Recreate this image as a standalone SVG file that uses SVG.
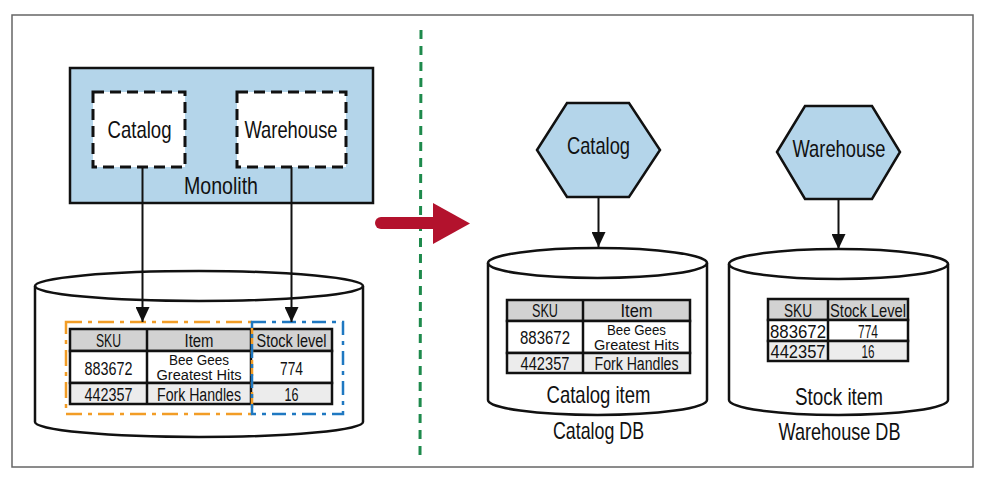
<svg xmlns="http://www.w3.org/2000/svg" width="984" height="489" viewBox="0 0 984 489">
<defs>
<style>
.t{font-family:"Liberation Sans",Arial,sans-serif;fill:#111;text-anchor:middle}
.big{font-size:24px}
.tb{font-size:18px}
.tw{font-size:14px}
.tb2{font-size:19px}
.ln{stroke:#111;stroke-width:2.5;fill:none}
.conn{stroke:#111;stroke-width:2;fill:none}
.cell{stroke:#111;stroke-width:2.5}
.hdr{fill:#d2d2d2}
.r1{fill:#ffffff}
.r2{fill:#ececec}
.blue{fill:#b4d5ea;stroke:#111;stroke-width:2.5}
</style>
<marker id="ah" markerWidth="15" markerHeight="14" refX="15" refY="7" orient="auto" markerUnits="userSpaceOnUse">
<path d="M0,0 L15,7 L0,14 Z" fill="#111"/>
</marker>
</defs>
<rect x="0" y="0" width="984" height="489" fill="#fff"/>
<rect x="12" y="15" width="961" height="452" fill="none" stroke="#666" stroke-width="1.5"/>

<g id="divider">
<line x1="421" y1="30" x2="420" y2="460" stroke="#1e8a4c" stroke-width="3" stroke-dasharray="9 7"/>
</g>

<g id="transition-arrow">
<line x1="381" y1="223" x2="436" y2="223" stroke="#b3122d" stroke-width="12" stroke-linecap="round"/>
<path d="M433,203 L470,223.5 L433,244 Z" fill="#b3122d"/>
</g>

<g id="monolith">
<rect x="70" y="68" width="303" height="135" class="blue"/>
<text x="221" y="194" class="t big" textLength="74" lengthAdjust="spacingAndGlyphs">Monolith</text>
</g>
<g id="monolith-catalog">
<rect x="93" y="92" width="92" height="75" fill="#fff" stroke="#111" stroke-width="3" stroke-dasharray="11 6"/>
<text x="139.5" y="138" class="t big" textLength="64" lengthAdjust="spacingAndGlyphs">Catalog</text>
</g>
<g id="monolith-warehouse">
<rect x="237" y="92" width="109" height="75" fill="#fff" stroke="#111" stroke-width="3" stroke-dasharray="11 6"/>
<text x="291" y="138" class="t big" textLength="93" lengthAdjust="spacingAndGlyphs">Warehouse</text>
</g>

<g id="monolith-db">
<path d="M35,286 L35,422 A164,15 0 0 0 363,422 L363,286" fill="#fff" class="ln"/>
<ellipse cx="199" cy="286" rx="164" ry="15" fill="#fff" class="ln"/>
<rect x="70" y="329" width="262" height="22" class="cell hdr"/>
<rect x="70" y="351" width="262" height="32" class="cell r1"/>
<rect x="70" y="383" width="262" height="21" class="cell r2"/>
<line x1="147" y1="329" x2="147" y2="404" class="cell"/>
<line x1="251" y1="329" x2="251" y2="404" class="cell"/>
<text x="108.5" y="346.5" class="t tb" textLength="25" lengthAdjust="spacingAndGlyphs">SKU</text>
<text x="199" y="346.5" class="t tb" textLength="29" lengthAdjust="spacingAndGlyphs">Item</text>
<text x="291.5" y="346.5" class="t tb" textLength="70" lengthAdjust="spacingAndGlyphs">Stock level</text>
<text x="108.5" y="375" class="t tb" textLength="48" lengthAdjust="spacingAndGlyphs">883672</text>
<text class="t tw"><tspan x="199" y="364.5" textLength="60" lengthAdjust="spacingAndGlyphs">Bee Gees</tspan><tspan x="199" y="380" textLength="85" lengthAdjust="spacingAndGlyphs">Greatest Hits</tspan></text>
<text x="291.5" y="375" class="t tb" textLength="23" lengthAdjust="spacingAndGlyphs">774</text>
<text x="108.5" y="400.5" class="t tb" textLength="48" lengthAdjust="spacingAndGlyphs">442357</text>
<text x="199" y="400.5" class="t tb" textLength="84" lengthAdjust="spacingAndGlyphs">Fork Handles</text>
<text x="291.5" y="400.5" class="t tb" textLength="14" lengthAdjust="spacingAndGlyphs">16</text>
<rect x="66" y="322" width="186" height="92" fill="none" stroke="#f29d26" stroke-width="2.5" stroke-dasharray="16 6 4 6"/>
<rect x="252" y="322" width="91" height="92" fill="none" stroke="#1f78c1" stroke-width="2.5" stroke-dasharray="14 6 4 6"/>
</g>

<g id="catalog-service">
<path d="M537,150 L567,103 L629,103 L660,150 L629,197 L567,197 Z" class="blue"/>
<text x="598.5" y="154" class="t big" textLength="63" lengthAdjust="spacingAndGlyphs">Catalog</text>
</g>
<g id="warehouse-service">
<path d="M777,152 L805,106 L872,106 L900,152 L872,199 L805,199 Z" class="blue"/>
<text x="839" y="157" class="t big" textLength="93" lengthAdjust="spacingAndGlyphs">Warehouse</text>
</g>

<g id="catalog-db">
<path d="M488,263 L488,400 A109.5,15 0 0 0 707,400 L707,263" fill="#fff" class="ln"/>
<ellipse cx="597.5" cy="263" rx="109.5" ry="15" fill="#fff" class="ln"/>
<rect x="507" y="300" width="183" height="21" class="cell hdr"/>
<rect x="507" y="321" width="183" height="32" class="cell r1"/>
<rect x="507" y="353" width="183" height="20" class="cell r2"/>
<line x1="583" y1="300" x2="583" y2="373" class="cell"/>
<text x="545" y="317" class="t tb" textLength="26" lengthAdjust="spacingAndGlyphs">SKU</text>
<text x="636.5" y="317" class="t tb" textLength="32" lengthAdjust="spacingAndGlyphs">Item</text>
<text x="545" y="344" class="t tb" textLength="50" lengthAdjust="spacingAndGlyphs">883672</text>
<text class="t tw"><tspan x="636.5" y="334.5" textLength="59" lengthAdjust="spacingAndGlyphs">Bee Gees</tspan><tspan x="636.5" y="350" textLength="85" lengthAdjust="spacingAndGlyphs">Greatest Hits</tspan></text>
<text x="545" y="369.5" class="t tb" textLength="49" lengthAdjust="spacingAndGlyphs">442357</text>
<text x="636.5" y="369.5" class="t tb" textLength="84" lengthAdjust="spacingAndGlyphs">Fork Handles</text>
<text x="598.5" y="403" class="t big" textLength="104" lengthAdjust="spacingAndGlyphs">Catalog item</text>
<text x="598.5" y="439" class="t big" textLength="91" lengthAdjust="spacingAndGlyphs">Catalog DB</text>
</g>

<g id="warehouse-db">
<path d="M729,264 L729,400 A109.5,15 0 0 0 948,400 L948,264" fill="#fff" class="ln"/>
<ellipse cx="838.5" cy="264" rx="109.5" ry="15" fill="#fff" class="ln"/>
<rect x="768" y="299" width="140" height="21" class="cell hdr"/>
<rect x="768" y="320" width="140" height="21" class="cell r1"/>
<rect x="768" y="341" width="140" height="20" class="cell r2"/>
<line x1="828" y1="299" x2="828" y2="361" class="cell"/>
<text x="798" y="316.5" class="t tb2" textLength="28" lengthAdjust="spacingAndGlyphs">SKU</text>
<text x="868" y="316.5" class="t tb2" textLength="76" lengthAdjust="spacingAndGlyphs">Stock Level</text>
<text x="798" y="337.5" class="t tb2" textLength="56" lengthAdjust="spacingAndGlyphs">883672</text>
<text x="868" y="337.5" class="t tb2" textLength="20" lengthAdjust="spacingAndGlyphs">774</text>
<text x="798" y="357.5" class="t tb2" textLength="55" lengthAdjust="spacingAndGlyphs">442357</text>
<text x="868" y="357.5" class="t tb2" textLength="13" lengthAdjust="spacingAndGlyphs">16</text>
<text x="839" y="405" class="t big" textLength="88" lengthAdjust="spacingAndGlyphs">Stock item</text>
<text x="839.5" y="440" class="t big" textLength="122" lengthAdjust="spacingAndGlyphs">Warehouse DB</text>
</g>

<g id="connectors">
<line x1="142.5" y1="167" x2="142.5" y2="322" class="conn" marker-end="url(#ah)"/>
<line x1="291.5" y1="167" x2="291.5" y2="322" class="conn" marker-end="url(#ah)"/>
<line x1="598.5" y1="197" x2="598.5" y2="247" class="conn" marker-end="url(#ah)"/>
<line x1="838.5" y1="199" x2="838.5" y2="249" class="conn" marker-end="url(#ah)"/>
</g>
</svg>
